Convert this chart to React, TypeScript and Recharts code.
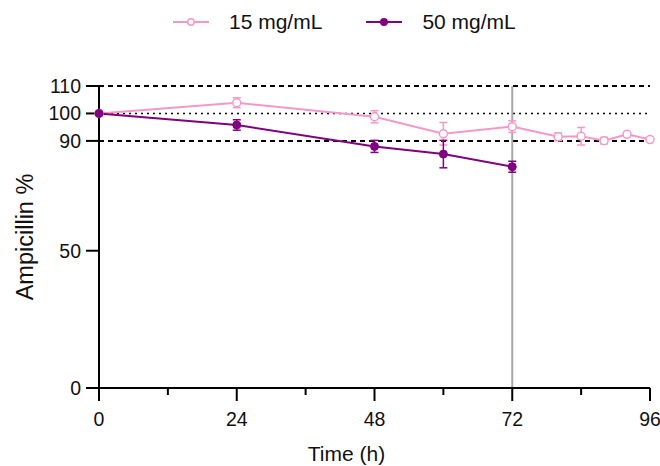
import React from "react";
import {
  LineChart,
  Line,
  XAxis,
  YAxis,
  ErrorBar,
  ReferenceLine,
  Label,
} from "recharts";

// time points (h) and ampicillin remaining (%) with SD
const timeLow = [0, 24, 48, 60, 72, 80, 84, 88, 92, 96];
const ampLow = [100, 103.9, 98.8, 92.6, 95.2, 91.5, 91.7, 90.1, 92.4, 90.5];
const errLow = [0, 1.8, 2.2, 4.1, 2.1, 1.4, 3.2, 1.2, 0, 0];

const timeHigh = [0, 24, 48, 60, 72];
const ampHigh = [100, 95.8, 88, 85.2, 80.6];
const errHigh = [0, 1.9, 2.2, 5, 2];

const xTicks = [0, 12, 24, 36, 48, 60, 72, 84, 96];
const yTicks = [0, 50, 90, 100, 110];

const PINK = "#F598C8";
const PURPLE = "#800080";
const FONT = "'Liberation Sans', Arial, sans-serif";

const lowData = timeLow.map((t, i) => ({ time: t, amp: ampLow[i], err: errLow[i] }));
const highData = timeHigh.map((t, i) => ({ time: t, amp: ampHigh[i], err: errHigh[i] }));

const series = [
  { name: "15 mg/mL", color: PINK, open: true },
  { name: "50 mg/mL", color: PURPLE, open: false },
];

function XTick(props: any) {
  const { x, y, payload } = props;
  const major = payload.value % 24 === 0;
  return (
    <g>
      <line x1={x} x2={x} y1={y} y2={y + (major ? 13 : 7)} stroke="#000" strokeWidth={2} />
      {major && (
        <text x={x} y={y + 38} textAnchor="middle" fontSize={19.5} fill="#111" fontFamily={FONT}>
          {payload.value}
        </text>
      )}
    </g>
  );
}

function ChartLegend() {
  return (
    <div
      style={{
        position: "absolute",
        top: 7,
        left: 173,
        height: 30,
        display: "flex",
        alignItems: "center",
        fontFamily: FONT,
        fontSize: 21,
        color: "#111",
      }}
    >
      {series.map((s, i) => (
        <div key={s.name} style={{ display: "flex", alignItems: "center", marginRight: i === 0 ? 44 : 0 }}>
          <svg width={36} height={20} style={{ marginRight: 20 }}>
            <line x1={0} x2={36} y1={10} y2={10} stroke={s.color} strokeWidth={2} />
            <circle
              cx={18}
              cy={10}
              r={3.2}
              fill={s.open ? "#fff" : s.color}
              stroke={s.color}
              strokeWidth={1.5}
            />
          </svg>
          <span>{s.name}</span>
        </div>
      ))}
    </div>
  );
}

export default function App() {
  return (
    <div style={{ position: "relative", width: 660, height: 466 }}>
      <style>{`body{margin:0}`}</style>
      <ChartLegend />
      <LineChart width={660} height={466} margin={{ top: 86, right: 10, left: 0, bottom: 0 }}>
        <XAxis
          dataKey="time"
          type="number"
          domain={[0, 96]}
          ticks={xTicks}
          interval={0}
          tickLine={false}
          tickSize={0}
          tickMargin={0}
          tick={<XTick />}
          axisLine={{ stroke: "#000", strokeWidth: 2 }}
          height={78}
          allowDuplicatedCategory={false}
        >
          <Label
            value="Time (h)"
            position="insideBottom"
            offset={5}
            dx={-28}
            style={{ fontSize: 21, fontFamily: FONT, fill: "#111" }}
          />
        </XAxis>
        <YAxis
          type="number"
          domain={[0, 110]}
          ticks={yTicks}
          interval={0}
          width={99}
          tickSize={13}
          tickMargin={5}
          tickLine={{ stroke: "#000", strokeWidth: 2 }}
          axisLine={{ stroke: "#000", strokeWidth: 2 }}
          tick={{ fontSize: 19.5, fill: "#111", fontFamily: FONT }}
        >
          <Label
            value="Ampicillin %"
            angle={-90}
            position="insideLeft"
            offset={25}
            style={{ fontSize: 23.5, fontFamily: FONT, fill: "#111", textAnchor: "middle" }}
          />
        </YAxis>
        <ReferenceLine y={110} stroke="#000" strokeWidth={2} strokeDasharray="5 4" />
        <ReferenceLine y={100} stroke="#000" strokeWidth={1.5} strokeDasharray="2 4" />
        <ReferenceLine y={90} stroke="#000" strokeWidth={2} strokeDasharray="5 4" />
        <ReferenceLine x={72} stroke="#A8A8A8" strokeWidth={2} />
        <Line
          data={lowData}
          dataKey="amp"
          name={series[0].name}
          stroke={PINK}
          strokeWidth={2}
          dot={{ r: 4, fill: "#fff", stroke: PINK, strokeWidth: 1.5 }}
          isAnimationActive={false}
        >
          <ErrorBar dataKey="err" direction="y" width={4} stroke={PINK} strokeWidth={1.5} isAnimationActive={false} />
        </Line>
        <Line
          data={highData}
          dataKey="amp"
          name={series[1].name}
          stroke={PURPLE}
          strokeWidth={2}
          dot={{ r: 4, fill: PURPLE, stroke: PURPLE, strokeWidth: 1 }}
          isAnimationActive={false}
        >
          <ErrorBar dataKey="err" direction="y" width={4} stroke={PURPLE} strokeWidth={1.5} isAnimationActive={false} />
        </Line>
      </LineChart>
    </div>
  );
}
